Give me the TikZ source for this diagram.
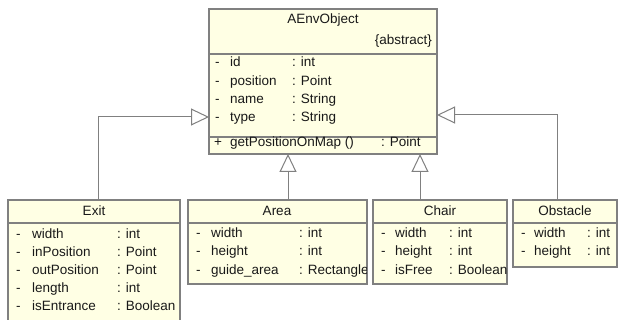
\documentclass[tikz,border=0pt]{standalone}
\usepackage{fontspec}
\setmainfont{Liberation Sans}
\usetikzlibrary{arrows.meta}
\definecolor{clsfill}{RGB}{255,255,228}
\definecolor{clsline}{RGB}{128,128,128}
\definecolor{txt}{RGB}{25,25,25}

\begin{document}
\begin{tikzpicture}[x=1pt,y=-1pt,
  cls/.style={draw=clsline, line width=1.3pt, fill=clsfill, anchor=north west,
              inner sep=0pt, outer sep=0pt},
  sepline/.style={draw=clsline, line width=1.3pt},
  lbl/.style={inner sep=0pt, text height=9.5pt, text depth=2.5pt,
              font=\fontsize{13.5}{16}\selectfont, text=txt},
  lw/.style={lbl, anchor=west},
  inh/.style={draw=clsline, line width=1pt,
              -{Triangle[length=18pt,width=17pt,fill=white]}},
]
\clip (0,0) rectangle (623,320);
\fill[white] (0,0) rectangle (623,320);

% ---------- abstract base class ----------
\node[cls, minimum width=228pt, minimum height=145pt] (base) at (209,9) {};
\draw[sepline] (base.west |- 0,54) -- (base.east |- 0,54);
\draw[sepline] (base.west |- 0,137) -- (base.east |- 0,137);
\node[lbl] (baseName) at (323,20) {AEnvObject};
\node[lbl, anchor=east] (baseStereo) at (432,41) {\{abstract\}};
\foreach \n/\a/\t/\yy in {b1/id/int/63, b2/position/Point/82, b3/name/String/100, b4/type/String/118}{
  \node[lw] (\n d) at (215,\yy) {-};
  \node[lw] (\n a) at (230,\yy) {\a};
  \node[lw] (\n t) at (292,\yy) {: \t};
}
\node[lw] (m1d) at (214,143) {+};
\node[lw] (m1a) at (230,143) {getPositionOnMap ()};
\node[lw] (m1t) at (381,143) {: Point};

% ---------- Exit ----------
\node[cls, minimum width=172pt, minimum height=135pt] (exit) at (8,200) {};
\draw[sepline] (exit.west |- 0,223) -- (exit.east |- 0,223);
\node[lbl] (exitName) at (94,212) {Exit};
\foreach \n/\a/\t/\yy in {e1/width/int/235, e2/inPosition/Point/253, e3/outPosition/Point/271, e4/length/int/289, e5/isEntrance/Boolean/307}{
  \node[lw] (\n d) at (16,\yy) {-};
  \node[lw] (\n a) at (32,\yy) {\a};
  \node[lw] (\n t) at (117,\yy) {: \t};
}

% ---------- Area ----------
\node[cls, minimum width=179pt, minimum height=84pt] (area) at (188,200) {};
\draw[sepline] (area.west |- 0,223) -- (area.east |- 0,223);
\node[lbl] (areaName) at (277,212) {Area};
\begin{scope}
  \clip (area.north west) rectangle ([xshift=-0.7pt]area.south east);
  \foreach \n/\a/\t/\yy in {r1/width/int/234, r2/height/int/252, r3/guide\_area/Rectangle/271}{
    \node[lw] (\n d) at (196,\yy) {-};
    \node[lw] (\n a) at (211,\yy) {\a};
    \node[lw] (\n t) at (299,\yy) {: \t};
  }
\end{scope}

% ---------- Chair ----------
\node[cls, minimum width=134pt, minimum height=84pt] (chair) at (373,200) {};
\draw[sepline] (chair.west |- 0,223) -- (chair.east |- 0,223);
\node[lbl] (chairName) at (440,212) {Chair};
\begin{scope}
  \clip (chair.north west) rectangle ([xshift=-0.7pt]chair.south east);
  \foreach \n/\a/\t/\yy in {c1/width/int/234, c2/height/int/252, c3/isFree/Boolean/271}{
    \node[lw] (\n d) at (381,\yy) {-};
    \node[lw] (\n a) at (395,\yy) {\a};
    \node[lw] (\n t) at (449,\yy) {: \t};
  }
\end{scope}

% ---------- Obstacle ----------
\node[cls, minimum width=104pt, minimum height=67pt] (obst) at (513,200) {};
\draw[sepline] (obst.west |- 0,223) -- (obst.east |- 0,223);
\node[lbl] (obstName) at (565,212) {Obstacle};
\foreach \n/\a/\t/\yy in {o1/width/int/234, o2/height/int/252}{
  \node[lw] (\n d) at (521,\yy) {-};
  \node[lw] (\n a) at (534,\yy) {\a};
  \node[lw] (\n t) at (587,\yy) {: \t};
}

% ---------- generalisations ----------
\draw[inh] (exit.north -| 98,0) |- (base.west |- 0,117);
\draw[inh] (area.north -| 288,0) -- (base.south -| 288,0);
\draw[inh] (chair.north -| 420,0) -- (base.south -| 420,0);
\draw[inh] (obst.north -| 557,0) |- (base.east |- 0,115);
\end{tikzpicture}
\end{document}
